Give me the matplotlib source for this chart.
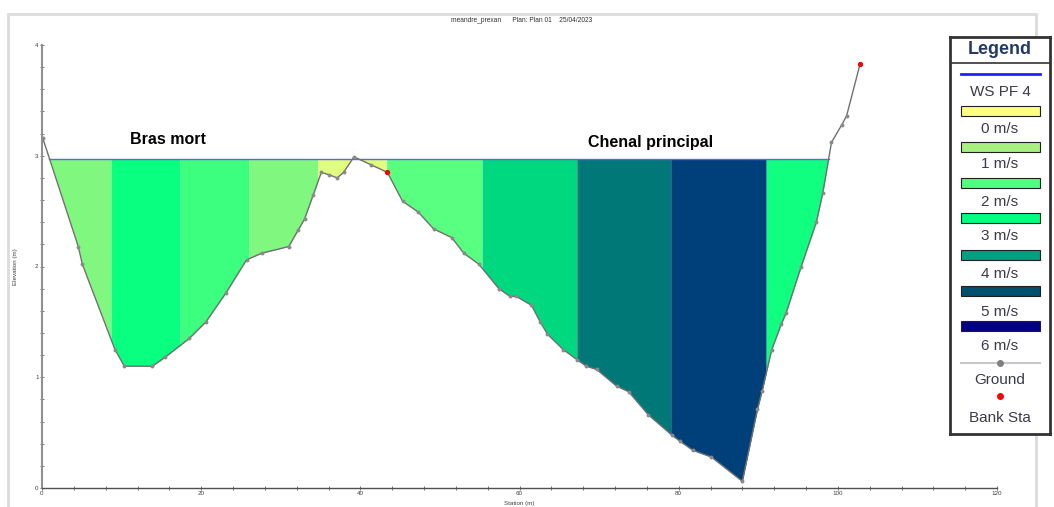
import numpy as np
import matplotlib
matplotlib.use("Agg")
import matplotlib.pyplot as plt
from matplotlib.patches import Rectangle

plt.rcParams['font.family'] = ['Liberation Sans', 'DejaVu Sans']

# ---------------- data ----------------
station = [0.09, 4.56, 5.07, 9.17, 10.34, 13.86, 15.45, 18.5, 20.6, 23.1, 25.7, 27.6,
           31.0, 32.2, 33.0, 34.1, 35.1, 36.0, 37.1, 37.9, 39.2, 41.3, 43.4, 45.3,
           47.3, 49.2, 51.5, 53.0, 54.9, 57.4, 58.8, 59.6, 61.5, 62.6, 63.5, 65.5,
           67.2, 68.4, 69.7, 72.2, 73.7, 76.2, 79.1, 80.2, 81.8, 84.1, 88.0, 89.9,
           90.5, 91.7, 92.9, 93.5, 95.4, 97.3, 98.1, 99.2, 100.5, 101.1, 102.8]
elevation = [3.16, 2.18, 2.02, 1.25, 1.10, 1.10, 1.18, 1.35, 1.50, 1.76, 2.06, 2.12,
             2.18, 2.33, 2.43, 2.65, 2.85, 2.83, 2.80, 2.85, 2.99, 2.92, 2.85, 2.59,
             2.49, 2.34, 2.26, 2.12, 2.02, 1.80, 1.73, 1.73, 1.65, 1.50, 1.39, 1.25,
             1.16, 1.10, 1.07, 0.92, 0.87, 0.66, 0.48, 0.42, 0.34, 0.28, 0.06, 0.71,
             0.88, 1.25, 1.48, 1.58, 2.00, 2.40, 2.66, 3.12, 3.28, 3.36, 3.83]
ws_elev = 2.97
bank_station = [43.4, 102.8]
bank_elev = [2.85, 3.83]

zone_edges = [0.0, 8.67, 17.3, 26.0, 34.7, 43.3, 55.3, 67.2, 79.0, 91.0, 103.0]
zone_colors = ['#80F880', '#08FF80', '#3CFF80', '#80F880', '#E0FF80',
               '#58FF80', '#00D880', '#007878', '#00407A', '#10FF80']

legend_labels = ['0 m/s', '1 m/s', '2 m/s', '3 m/s', '4 m/s', '5 m/s', '6 m/s']
legend_colors = ['#FFFF80', '#A8F080', '#50FF80', '#00FF80', '#00A080', '#00506E', '#000080']

title_text = 'meandre_prexan      Plan: Plan 01    25/04/2023'
labels_text = [('Bras mort', 15.8, 3.15), ('Chenal principal', 76.5, 3.12)]

# ---------------- figure ----------------
W, H = 1054, 507
fig = plt.figure(figsize=(W / 100, H / 100), dpi=100)
fig.patch.set_facecolor('white')

# outer light grey frame (behind everything)
fig.patches.append(Rectangle((8 / W, -0.05), (1036 - 8) / W, 1.05 - 14 / H,
                             transform=fig.transFigure, fill=False,
                             edgecolor='#dcdcdc', lw=2.0, zorder=-5))

ax = fig.add_axes([42 / W, 1 - 488 / H, (997 - 42) / W, (488 - 45) / H])
ax.set_xlim(0, 120)
ax.set_ylim(0, 4)

st = np.array(station)
el = np.array(elevation)

# velocity zones
for i, c in enumerate(zone_colors):
    a, b = zone_edges[i], zone_edges[i + 1]
    xs = np.union1d(st[(st > a) & (st < b)], [a, b])
    xs = np.union1d(xs, np.linspace(a, b, 200))
    xs = xs[(xs >= st[0]) & (xs <= st[-1])]
    gs = np.interp(xs, st, el)
    ax.fill_between(xs, gs, ws_elev, where=gs < ws_elev, interpolate=True,
                    color=c, lw=0, zorder=1)

# water surface line
wet = np.linspace(st[0], st[-1], 2000)
gw = np.interp(wet, st, el)
xw = wet[gw <= ws_elev + 0.03]
ax.plot([xw.min(), xw.max()], [ws_elev, ws_elev], color='#6060FF', lw=1.0, zorder=2)

# ground
ax.plot(st, el, color='#707070', lw=1.0, marker='o', ms=1.8,
        mfc='#8a8a8a', mec='#8a8a8a', zorder=3)
ax.plot(bank_station, bank_elev, 'o', color='red', ms=2.8, zorder=4)

for t, x, y in labels_text:
    ax.text(x, y, t, fontsize=11.5, fontweight='bold', ha='center', va='center',
            color='black', zorder=5)

# axes style
for s in ['top', 'right']:
    ax.spines[s].set_visible(False)
ax.spines['left'].set_color('#909090')
ax.spines['left'].set_linewidth(1.5)
ax.spines['bottom'].set_color('#505050')
ax.spines['bottom'].set_linewidth(1.0)
ax.set_xticks(np.arange(0, 121, 20))
ax.set_xticks(np.arange(0, 121, 4), minor=True)
ax.set_yticks(np.arange(0, 5, 1))
ax.set_yticks(np.arange(0, 4.01, 0.2), minor=True)
ax.tick_params(axis='both', which='both', direction='inout', length=3, width=0.6,
               colors='#606060', labelsize=4.5, labelcolor='#404040', pad=1)
ax.set_xlabel('Station (m)', fontsize=4.5, color='#404040', labelpad=3)
ax.set_ylabel('Elevation (m)', fontsize=4.5, color='#404040', labelpad=12)
ax.patch.set_alpha(0)

fig.text(522 / W, 1 - 20 / H, title_text, fontsize=4.8, ha='center', va='center',
         color='#303030')

# ---------------- legend ----------------
L, R, T, B = 950, 1050, 37, 434
lg = fig.add_axes([L / W, 1 - B / H, (R - L) / W, (B - T) / H])
lg.set_zorder(10)
lg.set_xlim(L, R)
lg.set_ylim(B, T)
lg.set_xticks([])
lg.set_yticks([])
for s in lg.spines.values():
    s.set_color('#333333')
    s.set_linewidth(2.0)
lg.set_facecolor('white')

txtc = '#3a3a4a'
lg.text(1000, 50, 'Legend', fontsize=13, fontweight='bold', ha='center',
        va='center', color='#243a66')
lg.plot([L, R], [62.5, 62.5], color='#333333', lw=1.2)
lg.plot([961, 1040], [73.5, 73.5], color='#2020FF', lw=2)
lg.text(1000, 92, 'WS PF 4', fontsize=11, ha='center', va='center', color=txtc)
patch_y = [110.5, 146.5, 182.5, 217.5, 254.5, 290.5, 326]
label_y = [129, 164.5, 202.5, 236.5, 273.5, 312, 346]
for c, lab, py, ly in zip(legend_colors, legend_labels, patch_y, label_y):
    lg.add_patch(Rectangle((961, py - 5), 79, 10, facecolor=c,
                           edgecolor='#202020', lw=0.8))
    lg.text(1000, ly, lab, fontsize=11, ha='center', va='center', color=txtc)
lg.plot([961, 1040], [362.5, 362.5], color='#c8c8c8', lw=1.5)
lg.plot([1000], [362.5], 'o', color='#808080', ms=4)
lg.text(1000, 380, 'Ground', fontsize=11, ha='center', va='center', color=txtc)
lg.plot([1000], [396], 'o', color='red', ms=4)
lg.text(1000, 418, 'Bank Sta', fontsize=11, ha='center', va='center', color=txtc)

fig.savefig('out.png', dpi=100)
